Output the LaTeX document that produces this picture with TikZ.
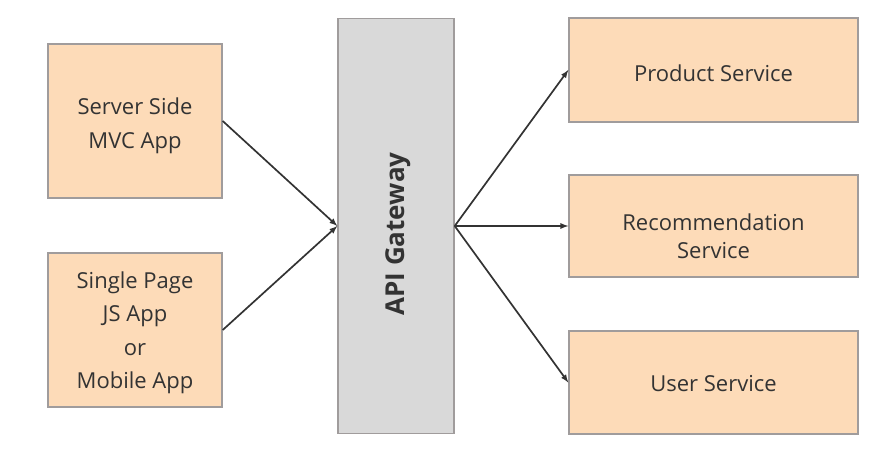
\documentclass[tikz,border=0pt]{standalone}
\usepackage{fontspec}
\setmainfont{Open Sans}
\usetikzlibrary{arrows}
\definecolor{peach}{HTML}{FDDBB8}
\definecolor{gwgray}{HTML}{D9D9D9}
\definecolor{edgegray}{HTML}{A09C9C}
\definecolor{ink}{HTML}{333333}
\begin{document}
\begin{tikzpicture}[x=1pt,y=-1pt,
	box/.style={draw=edgegray,line width=1.4pt,fill=peach,inner sep=0pt},
	boxtext/.style={text=ink,align=center,font=\fontsize{22}{33.5}\selectfont,inner sep=0pt},
	gatebox/.style={draw=edgegray,line width=1.4pt,fill=gwgray,inner sep=0pt},
	link/.style={-latex,line width=1.7pt,draw=ink}]
	\useasboundingbox (0,0) rectangle (882,457);
	\node[box,minimum width=174pt,minimum height=154pt] (mvc) at (135,121) {};
	\node[box,minimum width=174pt,minimum height=154pt] (spa) at (135,330) {};
	\node[gatebox,minimum width=116pt,minimum height=415pt] (gw) at (396,226) {};
	\node[box,minimum width=289pt,minimum height=104pt] (prod) at (713.5,70) {};
	\node[box,minimum width=289pt,minimum height=102pt] (rec) at (713.5,226) {};
	\node[box,minimum width=289pt,minimum height=103pt] (user) at (713.5,382.5) {};
	\node[boxtext] (mvctext) at (135,126) {Server Side\\MVC App};
	\node[boxtext] (spatext) at (135,333) {Single Page\\JS App\\or\\Mobile App};
	\node[rotate=90,text=ink,font=\fontsize{26}{30}\selectfont\bfseries] (gwtext) at (398,234) {API Gateway};
	\node[boxtext] (prodtext) at (713.5,73) {Product Service};
	\node[boxtext,font=\fontsize{22}{28}\selectfont] (rectext) at (713.5,236) {Recommendation\\Service};
	\node[boxtext] (usertext) at (713.5,384) {User Service};
	\draw[link] (mvc.east) -- (gw.west);
	\draw[link] (spa.east) -- (gw.west);
	\draw[link] (gw.east) -- (prod.west);
	\draw[link] (gw.east) -- (rec.west);
	\draw[link] (gw.east) -- (user.west);
\end{tikzpicture}
\end{document}
